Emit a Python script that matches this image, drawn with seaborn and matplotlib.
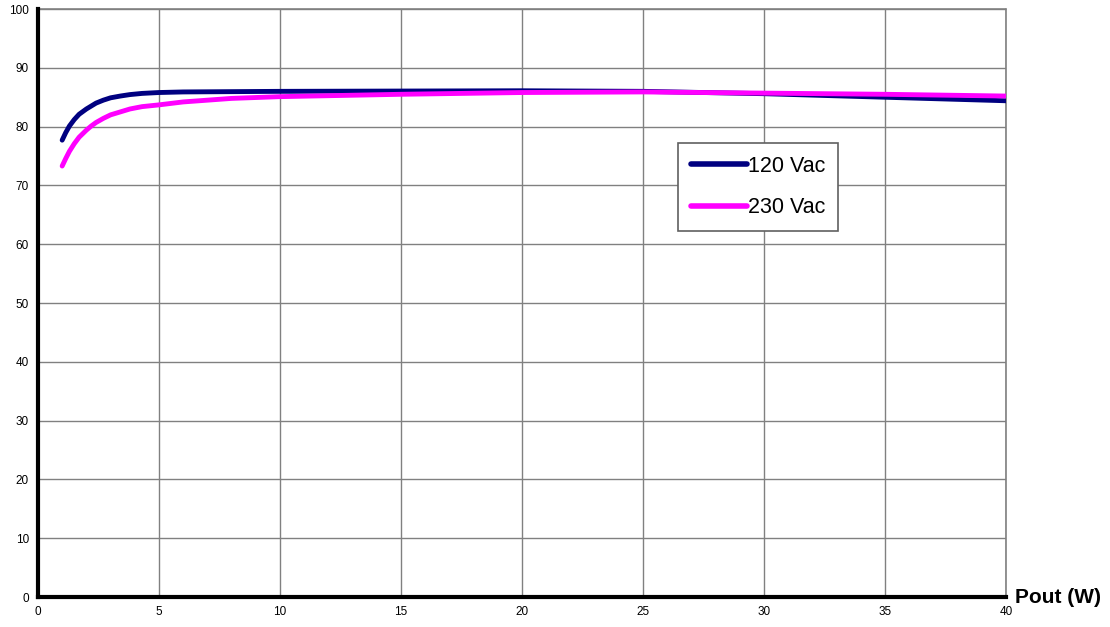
import matplotlib
matplotlib.use("Agg")
import matplotlib.pyplot as plt
import seaborn as sns
import pandas as pd
import numpy as np

# efficiency vs output power
pout = [1, 1.15, 1.3, 1.5, 1.7, 2, 2.2, 2.4, 2.7, 3, 3.4, 3.8, 4.3, 5, 6, 8, 10, 15, 20, 25, 30, 35, 40]
eff_120 = [77.7, 79.0, 80.1, 81.2, 82.1, 83.0, 83.5, 84.0, 84.5, 84.9, 85.2, 85.45, 85.65, 85.8,
           85.9, 85.95, 86.0, 86.05, 86.1, 86.0, 85.6, 85.0, 84.4]
eff_230 = [73.3, 74.6, 75.8, 77.1, 78.2, 79.4, 80.1, 80.7, 81.4, 82.0, 82.5, 83.0, 83.4, 83.7,
           84.2, 84.8, 85.1, 85.5, 85.8, 85.9, 85.7, 85.5, 85.2]
series = ["120 Vac", "230 Vac"]
colors = ["#000080", "#ff00ff"]

df = pd.DataFrame({
    "Pout": pout * 2,
    "eff": eff_120 + eff_230,
    "series": [series[0]] * len(pout) + [series[1]] * len(pout),
})

sns.set_style("white")
plt.rcParams['font.family'] = ['Liberation Sans', 'DejaVu Sans']
plt.rcParams['text.color'] = 'black'
plt.rcParams['xtick.color'] = 'black'
plt.rcParams['ytick.color'] = 'black'

fig = plt.figure(figsize=(11.1, 6.27), dpi=100)
ax = fig.add_axes([0.0342, 0.0478, 0.8721, 0.9378])

sns.lineplot(data=df, x="Pout", y="eff", hue="series", palette=colors,
             linewidth=3.5, ax=ax, legend=True)

ax.set_xlim(0, 40)
ax.set_ylim(0, 100)
ax.set_xticks(np.arange(0, 41, 5))
ax.set_yticks(np.arange(0, 101, 10))
ax.grid(True, color="#808080", linewidth=1)
ax.set_axisbelow(True)
ax.axvline(40, color="#808080", linewidth=1.2, clip_on=False, zorder=0.5)
ax.axhline(100, color="#808080", linewidth=1.2, clip_on=False, zorder=0.5)
for s in ["top", "right"]:
    ax.spines[s].set_visible(False)
for s in ["left", "bottom"]:
    ax.spines[s].set_linewidth(3)
    ax.spines[s].set_color("black")
ax.tick_params(axis="both", direction="inout", length=5, width=3, labelsize=8.5, pad=4)
ax.set_xlabel("")
ax.set_ylabel("")
ax.text(1.009, 0.0, "Pout (W)", transform=ax.transAxes, fontsize=15, fontweight="bold",
        ha="left", va="center")

leg = ax.legend(loc="upper left", bbox_to_anchor=(678 / 1110, 1 - 143 / 627),
                bbox_transform=fig.transFigure, fontsize=15.5,
                frameon=True, fancybox=False, edgecolor="#606060", framealpha=1,
                handlelength=2.6, handletextpad=0.05, labelspacing=0.95,
                borderpad=0.6, borderaxespad=0)
leg.get_frame().set_linewidth(1.2)
for line in leg.get_lines():
    line.set_linewidth(4)
for t in leg.get_texts():
    t.set_color("black")

fig.savefig("out.png", dpi=100)
